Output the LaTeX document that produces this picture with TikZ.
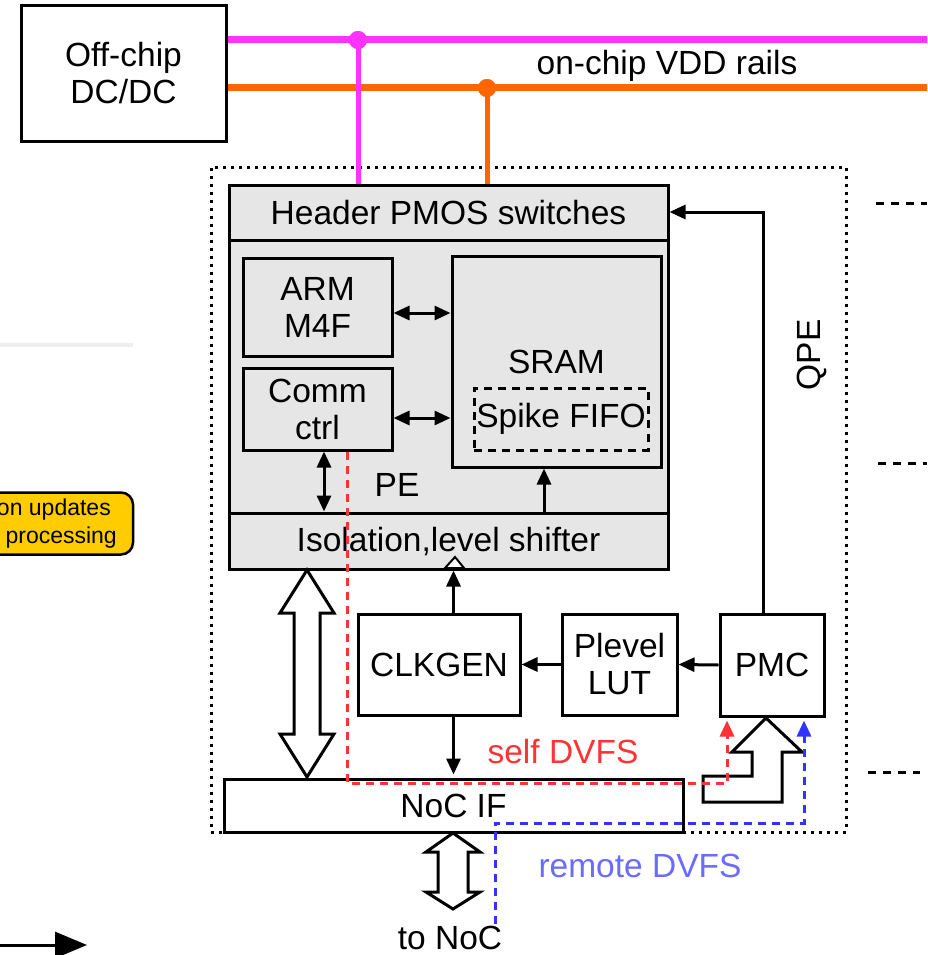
\documentclass[tikz,border=0pt]{standalone}
\usepackage{fontspec}
\setmainfont{Liberation Sans}
\usetikzlibrary{arrows.meta,calc}
\definecolor{mag}{HTML}{FF33FF}
\definecolor{org}{HTML}{FF6600}
\definecolor{boxgray}{HTML}{E6E6E6}
\definecolor{redd}{HTML}{FF3333}
\definecolor{bluu}{HTML}{3333FF}
\definecolor{bluetxt}{HTML}{6B6BFF}
\definecolor{yel}{HTML}{FFCC00}
\definecolor{faint}{HTML}{EEEEEE}
\begin{document}
\begin{tikzpicture}[x=1pt,y=-1pt,
  font=\fontsize{33.5}{37}\selectfont,
  >={Triangle[length=16pt,width=14pt]},
  blk/.style={draw, line width=3pt, inner sep=0pt, align=center},
  gblk/.style={blk, fill=boxgray},
  conn/.style={line width=3pt},
  rail/.style={line width=7pt},
  drop/.style={line width=5pt},
  hollow/.style={draw, line width=3pt, fill=white, line join=miter},
  reddash/.style={line width=3pt, redd, dash pattern=on 8pt off 6pt},
  bluedash/.style={line width=3pt, bluu, dash pattern=on 8pt off 6pt},
  sidedash/.style={line width=3pt, dash pattern=on 8pt off 7pt},
  dotbox/.style={draw, line width=3pt, dash pattern=on 3pt off 5pt}]
\useasboundingbox (0,0) rectangle (927,955);
\clip (0,0) rectangle (927,955);

% left fragments
\draw[line width=4pt, faint] (0,345) -- (133,345);
\node (yb) [draw, fill=yel, line width=2.5pt, rounded corners=12pt, minimum width=160pt, minimum height=62pt] at (53,523.5) {};
\node (yt1) [anchor=east, inner sep=0, font=\fontsize{23}{26}\selectfont] at (111,510) {on updates};
\node (yt2) [anchor=east, inner sep=0, font=\fontsize{23}{26}\selectfont] at (117,538) {processing};
\coordinate (la0) at (0,945);
\coordinate (la1) at (87,945);
\draw[conn, -{Triangle[length=32pt,width=26pt]}] (la0) -- (la1);

% right fragments
\coordinate (r1a) at (876,203); \coordinate (r1b) at (927,203);
\coordinate (r2a) at (878,463); \coordinate (r2b) at (927,463);
\coordinate (r3a) at (868,772); \coordinate (r3b) at (920,772);
\draw[sidedash] (r1a) -- (r1b);
\draw[sidedash] (r2a) -- (r2b);
\draw[sidedash] (r3a) -- (r3b);

% off-chip DC/DC and rails
\node (dcdc) [blk, minimum width=205pt, minimum height=135pt] at (123.5,73.5) {Off-chip\\DC/DC};
\coordinate (magend) at (927,40);
\coordinate (orgend) at (927,88);
\draw[rail, mag] (dcdc.east |- magend) -- (magend);
\draw[rail, org] (dcdc.east |- orgend) -- (orgend);
\node (rails) [inner sep=0] at (667,66) {on-chip VDD rails};

% QPE
\node (qpe) [dotbox, minimum width=635pt, minimum height=665pt] at (528.5,499.5) {};
\node (qpel) [rotate=90, inner sep=0] at (812,355) {QPE};

% PE
\node (pe) [gblk, minimum width=439pt, minimum height=273pt] at (448.5,376.5) {};
\node (header) [gblk, minimum width=439pt, minimum height=55pt] at (448.5,212.5) {Header PMOS switches};
\node (iso) [gblk, minimum width=439pt, minimum height=56pt] at (448.5,541) {Isolation,level shifter};
\node (arm) [gblk, minimum width=149pt, minimum height=98pt] at (317.5,307) {ARM\\M4F};
\node (comm) [gblk, minimum width=149pt, minimum height=82pt] at (317.5,409) {Comm\\ctrl};
\node (sram) [gblk, minimum width=209pt, minimum height=211pt] at (556.5,361.5) {SRAM};
\node (fifo) [draw, line width=3pt, dash pattern=on 8pt off 6pt, inner sep=0, minimum width=174pt, minimum height=62pt] at (561,419) {Spike FIFO};
\node (pel) [inner sep=0] at (397,485) {PE};

% supply drops
\node (mdot) [circle, fill=mag, minimum width=18pt, minimum height=18pt, inner sep=0] at (358,40) {};
\node (odot) [circle, fill=org, minimum width=18pt, minimum height=18pt, inner sep=0] at (487,88) {};
\draw[drop, mag] (mdot.center) -- (header.north -| mdot.center);
\draw[drop, org] (odot.center) -- (header.north -| odot.center);
\node (mdot2) [circle, fill=mag, minimum width=18pt, minimum height=18pt, inner sep=0] at (358,40) {};
\node (odot2) [circle, fill=org, minimum width=18pt, minimum height=18pt, inner sep=0] at (487,88) {};

% lower blocks
\node (clkgen) [blk, minimum width=162pt, minimum height=101pt] at (439,664.5) {CLKGEN};
\node (plevel) [blk, minimum width=115pt, minimum height=101pt] at (619.5,664.5) {Plevel\\LUT};
\node (pmc) [blk, minimum width=104pt, minimum height=102pt] at (772,665) {PMC};
\node (nocif) [blk, minimum width=459pt, minimum height=53pt] at (453.5,805.5) {NoC IF};

% internal PE arrows
\coordinate (as) at ($(arm.east)+(0,6)$);
\coordinate (cs) at ($(comm.east)+(0,9)$);
\coordinate (ci) at ($(comm.south)+(6.5,0)$);
\coordinate (is) at ($(iso.north)+(95.5,0)$);
\draw[conn, <->] (as) -- (as -| sram.west);
\draw[conn, <->] (cs) -- (cs -| sram.west);
\draw[conn, <->] (ci) -- (ci |- iso.north);
\draw[conn, ->] (is) -- (is |- sram.south);

% control arrows
\coordinate (pmcup) at (763,212);
\draw[conn, ->] (pmc.north -| pmcup) -- (pmcup) -- (header.east |- pmcup);
\draw[conn, ->] (pmc.west) -- (plevel.east);
\draw[conn, ->] (plevel.west) -- (clkgen.east);
\draw[conn, ->] (clkgen.north -| nocif.north) -- (iso.south -| nocif.north);
\draw[conn, ->] (clkgen.south -| nocif.north) -- ($(nocif.north)+(0,-3)$);
\draw[line width=2pt, fill=white] (445,568) -- (455,557) -- (464,568) -- cycle;

% hollow data arrows
\draw[hollow] (307,570) -- (280,613) -- (294,613) -- (294,734) -- (280,734) -- (307,777)
  -- (334,734) -- (320,734) -- (320,613) -- (334,613) -- cycle;
\draw[hollow] (453,833) -- (426,852) -- (438,852) -- (438,892) -- (426,892) -- (453,909)
  -- (480,892) -- (468,892) -- (468,852) -- (480,852) -- cycle;
\draw[hollow] (766,718) -- (802,752) -- (782,752) -- (782,802) -- (703,802) -- (703,776)
  -- (752,776) -- (752,752) -- (732,752) -- cycle;

% DVFS paths
\coordinate (rc1) at (347,783);
\coordinate (rc2) at (727,783);
\draw[reddash, -{Triangle[length=16pt,width=14pt]}] (comm.south -| rc1) -- (rc1) -- (rc2) -- ($(pmc.south -| rc2)+(0,3)$);
\node (selfl) [inner sep=0, text=redd] at (563,752) {self DVFS};
\coordinate (bstart) at (495,924);
\coordinate (bc1) at (495,823);
\coordinate (bc2) at (804,823);
\draw[bluedash, -{Triangle[length=16pt,width=14pt]}] (bstart) -- (bc1) -- (bc2) -- ($(pmc.south -| bc2)+(0,3)$);
\node (remotel) [inner sep=0, text=bluetxt] at (640,866) {remote DVFS};
\node (tonoc) [inner sep=0] at (450,938) {to NoC};
\end{tikzpicture}
\end{document}
